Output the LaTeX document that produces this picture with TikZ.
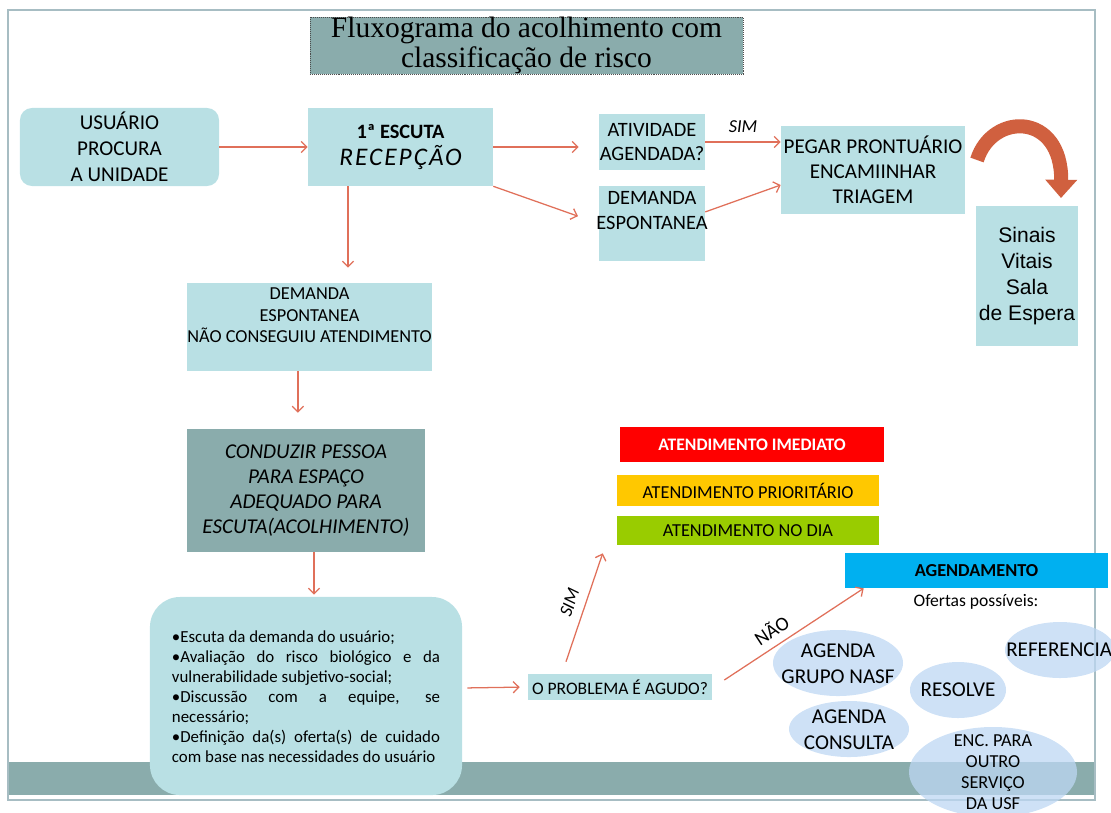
\documentclass[tikz,border=0pt]{standalone}
\usepackage{fontspec}
\setmainfont{Carlito}
\newfontfamily\titulofont{Liberation Serif}
\newfontfamily\arialfont{Liberation Sans}
\newfontfamily\recepfont[LetterSpace=8]{Carlito}
\usetikzlibrary{arrows.meta,positioning}

\definecolor{caixaazul}{RGB}{185,224,228}
\definecolor{cinzaverde}{RGB}{138,172,172}
\definecolor{setacor}{RGB}{224,112,90}
\definecolor{curvacor}{RGB}{208,96,63}
\definecolor{moldura}{RGB}{167,189,195}
\definecolor{amarelo}{RGB}{255,200,0}
\definecolor{verdeclaro}{RGB}{153,204,0}
\definecolor{azulforte}{RGB}{0,176,240}
\definecolor{elipse}{RGB}{189,215,243}

\tikzset{
  caixa/.style={fill=caixaazul, inner sep=0pt, align=center},
  seta/.style={draw=setacor, line width=0.9pt, -{Straight Barb[length=4pt,width=8pt]}},
  faixa/.style={inner sep=0pt, minimum width=6.55cm, font=\fontsize{13}{15}\selectfont},
  oferta/.style={fill=elipse, fill opacity=0.75},
  ofertatxt/.style={inner sep=0pt, align=center, font=\fontsize{15}{18.4}\selectfont},
}

\begin{document}
\begin{tikzpicture}[x=0.025cm, y=-0.025cm]
  \useasboundingbox (0,0) rectangle (1111,812);
  \clip (0,0) rectangle (1111,812);
  % slide frame and bottom band
  \fill[cinzaverde] (8,762) rectangle (1095,795);
  \draw[moldura, line width=1pt] (8,10) rectangle (1095,800);
  % title
  \node[fill=cinzaverde, draw=gray!60!black, densely dotted, inner sep=0pt,
        minimum width=10.825cm, minimum height=1.375cm, align=center,
        font=\titulofont\fontsize{21}{21.5}\selectfont] (titulo) at (526.5,45.5)
        {Fluxograma do acolhimento com\\classificação de risco};

  % first row
  \node[caixa, rounded corners=0.3cm, minimum width=4.975cm, minimum height=1.95cm,
        font=\fontsize{15}{18.5}\selectfont] (usuario) at (119.5,147)
        {USUÁRIO\\PROCURA\\A UNIDADE};
  \node[caixa, minimum width=4.625cm, minimum height=1.95cm] (escuta) at (400.5,147)
        {\fontsize{14.5}{17}\selectfont\bfseries 1ª ESCUTA\\[4pt]
         \recepfont\mdseries\itshape\fontsize{18}{18}\selectfont RECEPÇÃO};
  \node[caixa, minimum width=2.65cm, minimum height=1.4cm,
        font=\fontsize{14.5}{17.7}\selectfont] (atividade) at (652,142)
        {ATIVIDADE\\AGENDADA?};
  \node[caixa, minimum width=2.65cm, minimum height=1.875cm] (espont) at (652,223.5) {};
  \node[anchor=north, inner sep=0pt, align=center, font=\fontsize{14.5}{17.7}\selectfont]
        (esponttxt) at ([yshift=-0.13cm]espont.north) {DEMANDA\\ESPONTANEA};
  \node[caixa, minimum width=4.6cm, minimum height=2.2cm,
        font=\fontsize{15}{17.7}\selectfont] (pegar) at (873,170)
        {PEGAR PRONTUÁRIO\\ENCAMIINHAR\\TRIAGEM};
  \node[caixa, minimum width=2.55cm, minimum height=3.5cm,
        font=\arialfont\fontsize{15}{18.4}\selectfont] (sinais) at (1027,276)
        {Sinais\\Vitais\\Sala\\de Espera};
  % curved arrow to the waiting room
  \draw[curvacor, line width=10pt, -{Triangle[length=13pt,width=22pt]}]
        (977,160) .. controls (992,112) and (1062,112) .. (1061,198);

  % left column
  \node[caixa, minimum width=6.125cm, minimum height=2.2cm] (naoconseguiu) at (309.5,327) {};
  \node[anchor=north, inner sep=0pt, align=center, font=\fontsize{13}{15}\selectfont]
        (naoconseguiutxt) at ([yshift=-0.13cm]naoconseguiu.north)
        {DEMANDA\\ESPONTANEA\\NÃO CONSEGUIU ATENDIMENTO};
  \node[fill=cinzaverde, inner sep=0pt, minimum width=5.95cm, minimum height=3.075cm,
        align=center, font=\itshape\fontsize{15}{17.7}\selectfont] (conduzir) at (306,490.5)
        {CONDUZIR PESSOA\\PARA ESPAÇO\\ADEQUADO PARA\\ESCUTA(ACOLHIMENTO)};
  \node[caixa, rounded corners=0.75cm, minimum width=7.8cm, minimum height=4.95cm]
        (escutabox) at (306,696) {};
  \node[inner sep=0pt, text width=6.7cm, align=justify, font=\fontsize{12}{14.2}\selectfont]
        (escutatxt) at (306,697)
        {\textbullet Escuta da demanda do usuário;\\
         \textbullet Avaliação do risco biológico e da\linebreak vulnerabilidade subjetivo-social;\\
         \textbullet Discussão com a equipe, se\linebreak necessário;\\
         \textbullet Definição da(s) oferta(s) de cuidado\linebreak com base nas necessidades do usuário};
  \node[caixa, minimum width=4.6cm, minimum height=0.65cm,
        font=\fontsize{12.5}{14}\selectfont] (problema) at (620,687) {O PROBLEMA É AGUDO?};

  % risk classes
  \node[faixa, fill=red, text=white, minimum width=6.6cm, minimum height=0.875cm,
        font=\bfseries\fontsize{12.5}{14}\selectfont] (imediato) at (752,444.5) {ATENDIMENTO IMEDIATO};
  \node[faixa, fill=amarelo, minimum height=0.775cm] (prioritario) at (748,490.5) {ATENDIMENTO PRIORITÁRIO};
  \node[faixa, fill=verdeclaro, minimum height=0.725cm] (nodia) at (748,530.5) {ATENDIMENTO NO DIA};
  \node[faixa, fill=azulforte, minimum width=6.575cm, minimum height=0.875cm,
        font=\bfseries\fontsize{13}{15}\selectfont] (agendamento) at (976.5,570.5) {AGENDAMENTO};
  \node[inner sep=0pt, font=\fontsize{12.5}{14}\selectfont] (ofertas) at (976,602) {Ofertas possíveis:};

  % offers
  \fill[oferta] (838,663) ellipse [x radius=1.625cm, y radius=0.825cm];
  \fill[oferta] (849,729) ellipse [x radius=1.5cm, y radius=0.7cm];
  \fill[oferta] (958,690) ellipse [x radius=1.2cm, y radius=0.7cm];
  \fill[oferta] (1060,650) ellipse [x radius=1.375cm, y radius=0.7cm];
  \fill[oferta] (993,772) ellipse [x radius=2.1cm, y radius=1.125cm];
  \node[ofertatxt] (nasf) at (838,664) {AGENDA\\GRUPO NASF};
  \node[ofertatxt] (consulta) at (849,730) {AGENDA\\CONSULTA};
  \node[ofertatxt] (resolve) at (958,690) {RESOLVE};
  \node[ofertatxt, anchor=west] (referencia) at (1006,650) {REFERENCIA};
  \node[ofertatxt, font=\fontsize{13}{15}\selectfont] (encaminha) at (993,772)
        {ENC. PARA\\OUTRO\\SERVIÇO\\DA USF};

  % connectors
  \draw[seta] (usuario) -- (escuta);
  \draw[seta, shorten >=0.5cm] (escuta.east) -- (atividade.west |- escuta.east);
  \draw[seta, shorten >=0.55cm] (escuta.south east) -- (espont.west);
  \draw[seta] (atividade.east) -- (atividade.east -| pegar.west)
        node[midway, above=3pt, font=\itshape\fontsize{13}{15}\selectfont] {SIM};
  \draw[seta] ([yshift=0.29cm]espont.east) -- ([yshift=-0.375cm]pegar.west);
  \draw[seta, shorten >=0.375cm] ([xshift=-1.3125cm]escuta.south)
        -- ([xshift=-1.3125cm]escuta.south |- naoconseguiu.north);
  \draw[seta, shorten >=0.4cm] ([xshift=-0.29cm]naoconseguiu.south)
        -- ([xshift=-0.29cm]naoconseguiu.south |- conduzir.north);
  \draw[seta, shorten >=0.05cm] ([xshift=0.2cm]conduzir.south)
        -- ([xshift=0.2cm]conduzir.south |- escutabox.north);
  \draw[seta, shorten <=0.125cm, shorten >=0.2cm] ([yshift=0.2cm]escutabox.east) -- (problema.west);
  \draw[seta] ([xshift=-1.35cm,yshift=0.3cm]problema.north)
        -- ([xshift=-0.35cm,yshift=-0.2cm]nodia.south west)
        node[midway, above=3pt, sloped, font=\itshape\fontsize{13}{15}\selectfont] {SIM};
  \draw[seta] ([xshift=0.3cm,yshift=0.175cm]problema.east)
        -- ([xshift=0.475cm]agendamento.south west)
        node[pos=0.4, above=2pt, sloped, font=\fontsize{14}{16}\selectfont] {NÃO};
\end{tikzpicture}
\end{document}
